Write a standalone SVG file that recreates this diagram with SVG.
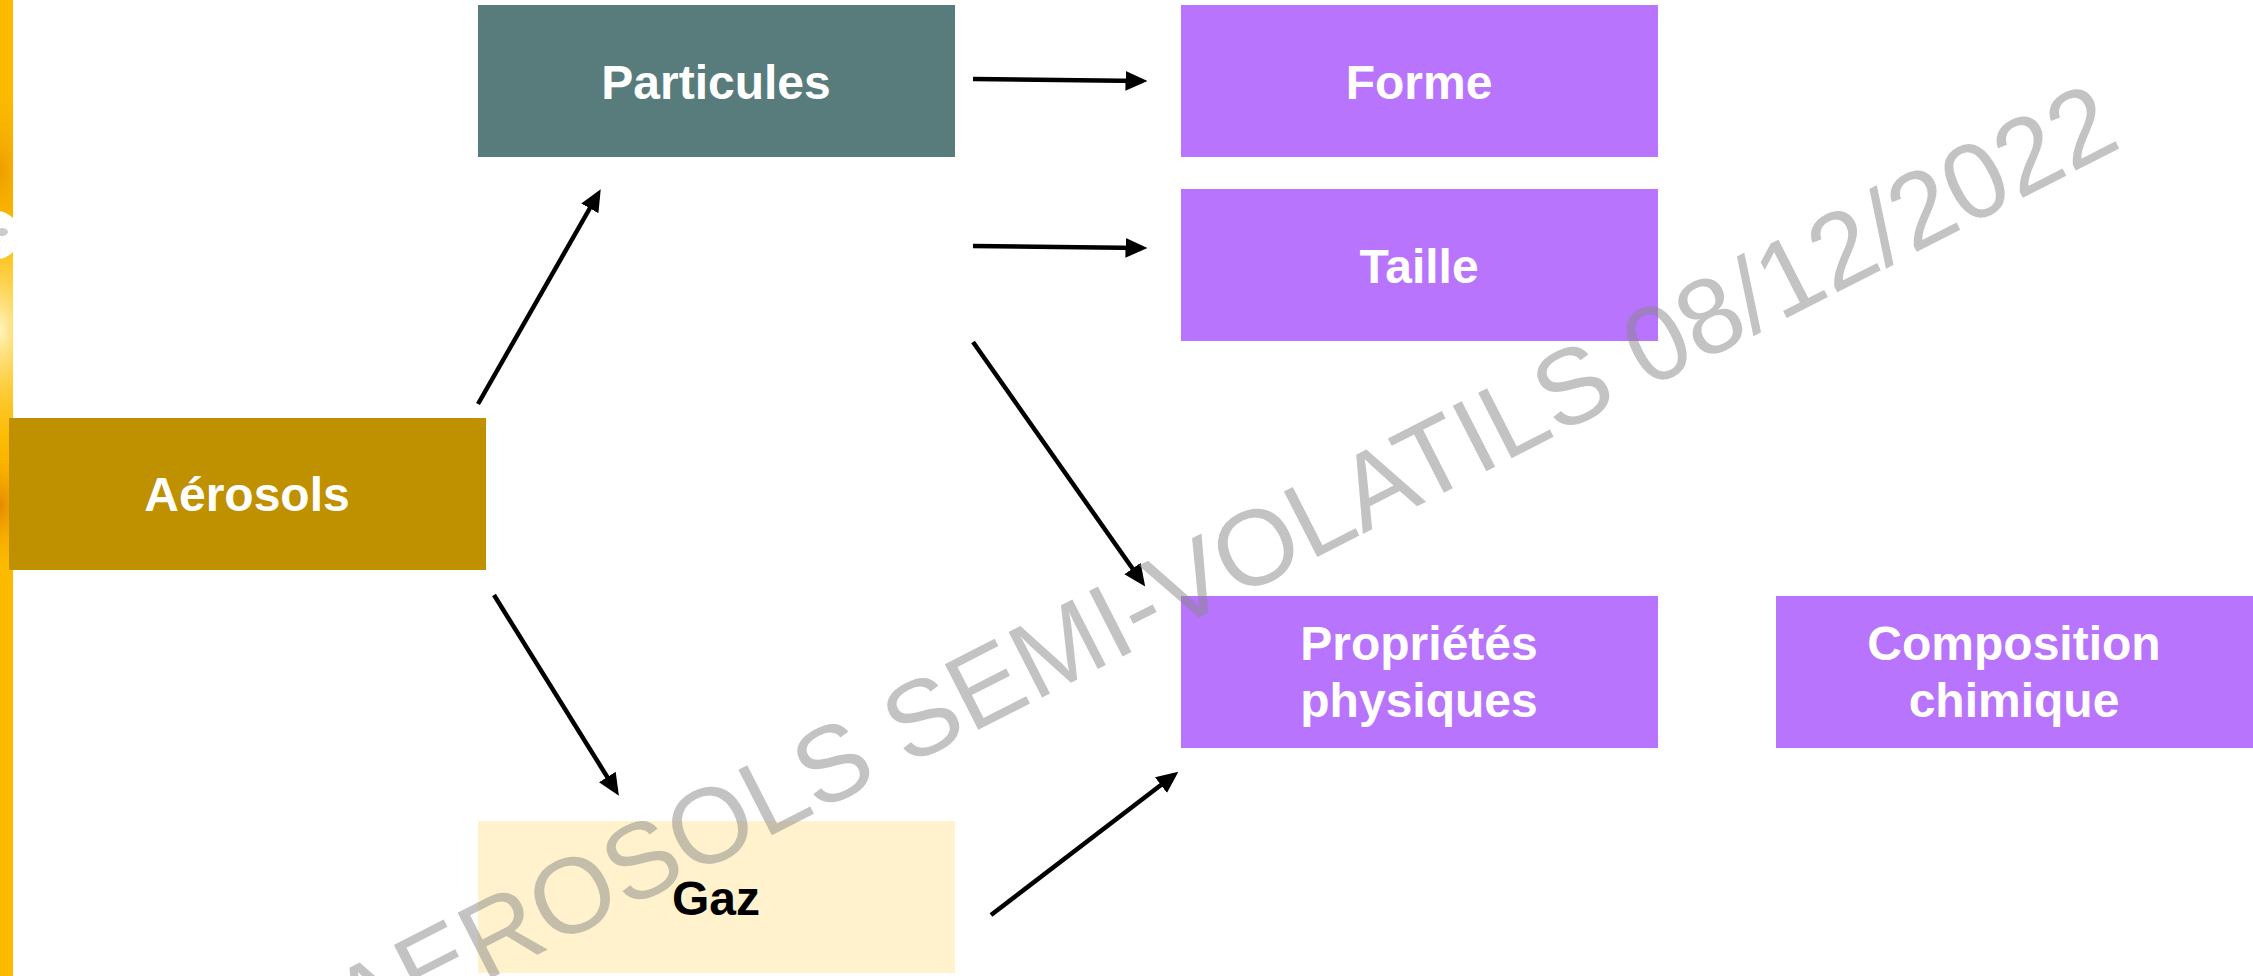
<svg xmlns="http://www.w3.org/2000/svg" width="2253" height="976" viewBox="0 0 2253 976">
<style>
.lbl{font-family:"Liberation Sans",Arial,sans-serif;font-weight:bold;font-size:48px;text-anchor:middle;fill:#ffffff}
.dark{fill:#000000}
.purple{fill:#B874FC}
.conn{stroke:#000;stroke-width:4.5;fill:none;marker-end:url(#ah)}
.wm{font-family:"Liberation Sans",Arial,sans-serif;font-size:107px;fill:#888888;fill-opacity:0.5}
</style>
<defs>
<marker id="ah" markerUnits="userSpaceOnUse" markerWidth="22" markerHeight="20" viewBox="0 0 20 18" refX="15" refY="9" orient="auto">
<path d="M0,0 L20,9 L0,18 z" fill="#000"/>
</marker>
<clipPath id="barclip"><rect x="0" y="0" width="13" height="976"/></clipPath>
<radialGradient id="glow" cx="0.5" cy="0.5" r="0.5">
<stop offset="0" stop-color="#FFF4C0"/>
<stop offset="1" stop-color="#FCCB30" stop-opacity="0"/>
</radialGradient>
<radialGradient id="orng" cx="0.5" cy="0.5" r="0.5">
<stop offset="0" stop-color="#E48A00"/>
<stop offset="1" stop-color="#FCBA00" stop-opacity="0"/>
</radialGradient>
</defs>
<rect width="2253" height="976" fill="#ffffff"/>
<g id="sidebar" clip-path="url(#barclip)">
<rect x="0" y="0" width="13" height="976" fill="#FCBA00"/>
<ellipse cx="0" cy="170" rx="40" ry="90" fill="url(#orng)" opacity="0.6"/>
<ellipse cx="0" cy="330" rx="60" ry="120" fill="url(#glow)"/>
<ellipse cx="0" cy="505" rx="40" ry="70" fill="url(#orng)"/>
<circle cx="-4" cy="235" r="24" fill="#ffffff"/>
<ellipse cx="2" cy="232" rx="6" ry="4" fill="#cccccc"/>
</g>
<g id="connectors">
<line class="conn" x1="973" y1="79" x2="1142" y2="81"/>
<line class="conn" x1="973" y1="246" x2="1142" y2="248"/>
<line class="conn" x1="973" y1="342" x2="1142" y2="582"/>
<line class="conn" x1="478" y1="404" x2="598" y2="194"/>
<line class="conn" x1="494" y1="595" x2="616" y2="791"/>
<line class="conn" x1="991" y1="915" x2="1174" y2="775"/>
</g>
<g id="n-particules">
<rect x="478" y="5" width="477" height="152" fill="#587C7C"/>
<text class="lbl" x="716" y="99">Particules</text>
</g>
<g id="n-forme">
<rect class="purple" x="1181" y="5" width="477" height="152"/>
<text class="lbl" x="1419" y="99">Forme</text>
</g>
<g id="n-taille">
<rect class="purple" x="1181" y="189" width="477" height="152"/>
<text class="lbl" x="1419" y="283">Taille</text>
</g>
<g id="n-aerosols">
<rect x="9" y="418" width="477" height="152" fill="#BF9000"/>
<text class="lbl" x="247" y="511">Aérosols</text>
</g>
<g id="n-gaz">
<rect x="478" y="821" width="477" height="152" fill="#FFF2CC"/>
<text class="lbl dark" x="716" y="915">Gaz</text>
</g>
<g id="n-proprietes">
<rect class="purple" x="1181" y="596" width="477" height="152"/>
<text class="lbl" x="1419" y="660">Propriétés</text>
<text class="lbl" x="1419" y="717">physiques</text>
</g>
<g id="n-composition">
<rect class="purple" x="1776" y="596" width="477" height="152"/>
<text class="lbl" x="2014" y="660">Composition</text>
<text class="lbl" x="2014" y="717">chimique</text>
</g>
<g id="watermark">
<text class="wm" transform="translate(356,1047) rotate(-27)">AEROSOLS SEMI-VOLATILS 08/12/2022</text>
</g>
</svg>
